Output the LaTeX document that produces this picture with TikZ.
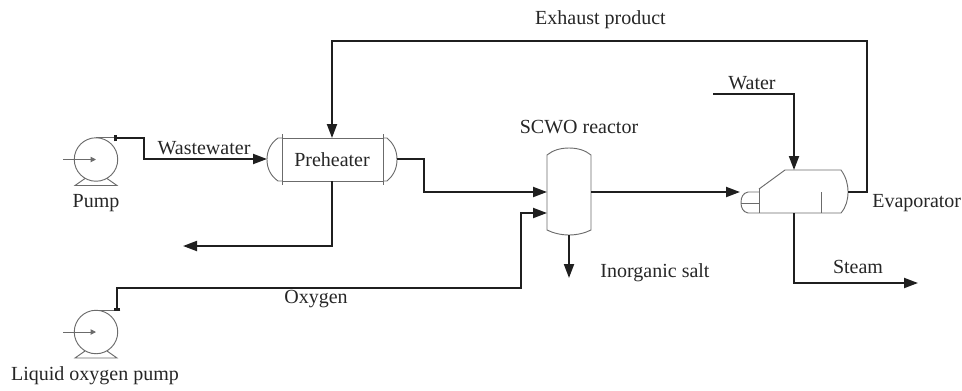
\documentclass[tikz,border=0pt]{standalone}
\usepackage{fontspec}
\setmainfont{Liberation Serif}
\usetikzlibrary{arrows.meta}
\tikzset{
  pipe/.style={line width=1.5pt,draw=black!88,line join=miter},
  flow/.style={pipe,-{Triangle[length=10.5pt,width=7.5pt]}},
  equip/.style={line width=0.7pt,draw=black!58},
  lab/.style={inner sep=0pt,text=black!85,font=\fontsize{15}{18}\selectfont,anchor=center},
}
\begin{document}
\begin{tikzpicture}[x=0.75pt,y=-0.75pt]
\useasboundingbox (0,0) rectangle (962,390);
% pumps
\foreach \n/\cy in {a/159.5,b/332}{
  \begin{scope}[shift={(96,\cy)}]
    \draw[equip] (0,0) circle (16.3pt);
    \draw[equip] (-11,19) -- (-21,26) -- (21,26) -- (11,19);
    \draw[equip,-{Triangle[length=4pt,width=4pt]}] (-33,0) -- (0,0);
    \draw[equip] (0,-21.7) -- (19,-21.7);
  \end{scope}
}
% ports
\coordinate (pumpAout) at (114,138);
\coordinate (pumpBout) at (117,311);
\coordinate (wwA) at (144,138);
\coordinate (wwB) at (144,159);
\coordinate (heatIn) at (267,159);
\coordinate (heatOut) at (397,159);
\coordinate (heatTop) at (332,138);
\coordinate (heatBot) at (332,181);
\coordinate (reclA) at (424,159);
\coordinate (reclB) at (424,192);
\coordinate (recIn) at (547,192);
\coordinate (recOx) at (547,213);
\coordinate (recOut) at (591,192);
\coordinate (recBot) at (569,235);
\coordinate (saltEnd) at (569,278);
\coordinate (evapIn) at (740,192);
\coordinate (evapTop) at (794,170);
\coordinate (evapBot) at (794,213);
\coordinate (evapOut) at (848,192);
\coordinate (waterStart) at (713,94);
\coordinate (waterC) at (794,94);
\coordinate (exA) at (867,192);
\coordinate (exB) at (867,41);
\coordinate (exC) at (332,41);
\coordinate (wasteC) at (332,246);
\coordinate (wasteEnd) at (183,246);
\coordinate (steamC) at (794,283);
\coordinate (steamEnd) at (918,283);
\coordinate (oxA) at (117,288);
\coordinate (oxB) at (521,288);
\coordinate (oxC) at (521,213);
% preheater
\draw[equip] (282,138) -- (383,138) (282,181) -- (383,181);
\draw[equip] (282,134) -- (282,185) (383,134) -- (383,185);
\draw[equip] (282,138) -- (278,138) .. controls (271,143) and (267,150) .. (267,159.5) .. controls (267,169) and (271,176) .. (278,181) -- (282,181);
\draw[equip] (383,138) -- (387,138) .. controls (393,143) and (397,150) .. (397,159.5) .. controls (397,169) and (393,176) .. (387,181) -- (383,181);
% reactor
\draw[equip] (547,155) .. controls (553,150) and (561,148) .. (569,148) .. controls (577,148) and (585,150) .. (591,155)
  -- (591,230) .. controls (585,233) and (577,235) .. (569,235) .. controls (561,235) and (553,233) .. (547,230) -- cycle;
% evaporator
\draw[equip] (759,189) -- (785,170) -- (841,170) .. controls (846,177) and (848,184) .. (848,192) .. controls (848,200) and (846,207) .. (841,213) -- (748,213)
  .. controls (743,212) and (741,208) .. (741,202.5) .. controls (741,197) and (743,193) .. (748,192) -- (759,192);
\draw[equip] (759,188) -- (759,213) (741,203) -- (759,203) (821,192) -- (821,213);
% connectors
\draw[flow,{Bar[width=5pt,line width=2pt]}-{Triangle[length=10.5pt,width=7.5pt]}] (pumpAout) -- (wwA) -- (wwB) -- (heatIn);
\draw[flow] (heatOut) -- (reclA) -- (reclB) -- (recIn);
\draw[flow] (recOut) -- (evapIn);
\draw[flow] (recBot) -- (saltEnd);
\draw[flow] (waterStart) -- (waterC) -- (evapTop);
\draw[flow] (evapOut) -- (exA) -- (exB) -- (exC) -- (heatTop);
\draw[flow] (heatBot) -- (wasteC) -- (wasteEnd);
\draw[flow] (evapBot) -- (steamC) -- (steamEnd);
\draw[flow,{Bar[width=5pt,line width=2pt]}-{Triangle[length=10.5pt,width=7.5pt]}] (pumpBout) -- (oxA) -- (oxB) -- (oxC) -- (recOx);
% labels
\node[lab] (lexh) at (600.5,19.5) {Exhaust product};
\node[lab] (lwat) at (752,83) {Water};
\node[lab] (lscwo) at (579,127) {SCWO reactor};
\node[lab] (lww) at (204,148) {Wastewater};
\node[lab] (lph) at (332,159.5) {Preheater};
\node[lab] (lpump) at (96,203) {Pump};
\node[lab] (lsalt) at (655,273) {Inorganic salt};
\node[lab,anchor=west] (levap) at (872,203) {Evaporator};
\node[lab] (lsteam) at (858,267) {Steam};
\node[lab] (loxy) at (316,299) {Oxygen};
\node[lab] (llop) at (95,376) {Liquid oxygen pump};
\end{tikzpicture}
\end{document}
